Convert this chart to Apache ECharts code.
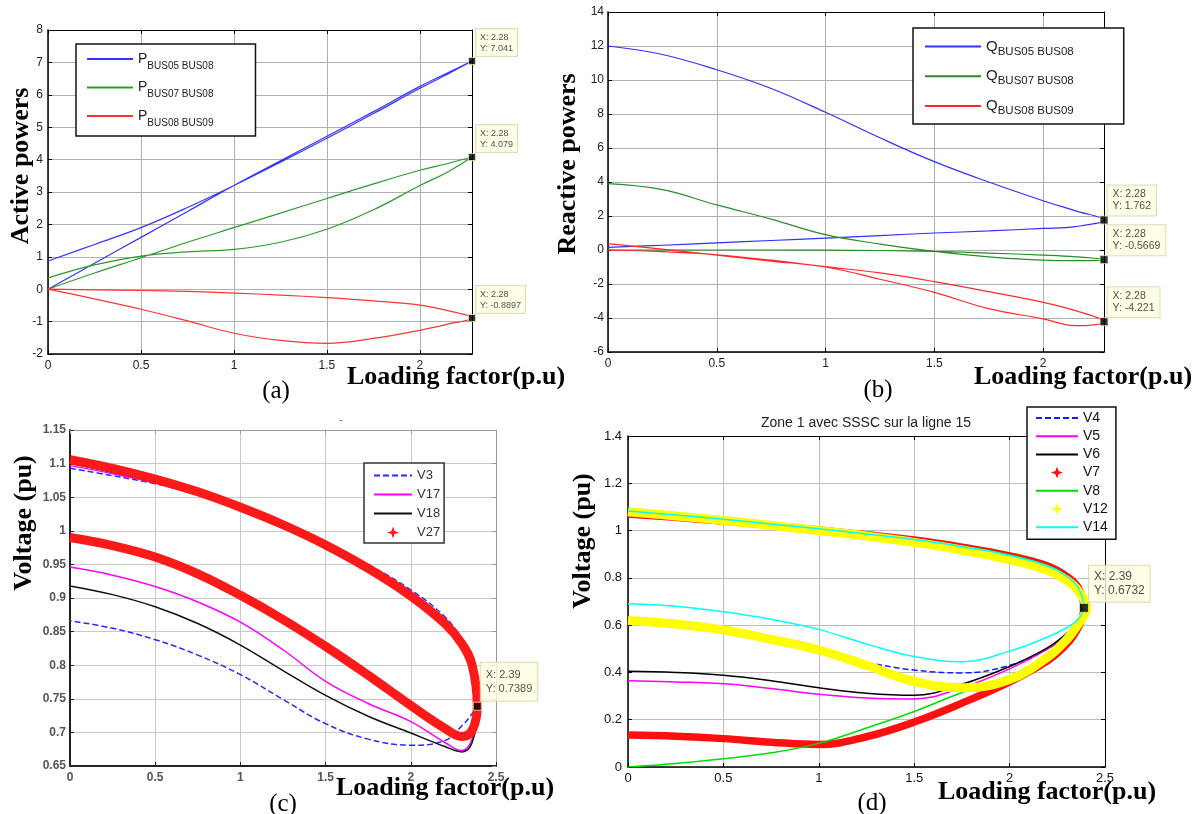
<!DOCTYPE html>
<html>
<head>
<meta charset="utf-8">
<script src="https://cdn.jsdelivr.net/npm/echarts@6/dist/echarts.min.js"></script>
<style>
  html, body { margin: 0; padding: 0; background: #fff; }
  #chart { width: 1203px; height: 814px; }
</style>
</head>
<body>
<div id="chart"></div>
<script>
// Loading factor samples used by the two power-flow panels and the two PV panels
const xsPower = [0, 0.25, 0.5, 0.75, 1, 1.25, 1.5, 1.75, 2, 2.15, 2.28];
const xsVolt = [0, 0.25, 0.5, 0.75, 1, 1.25, 1.5, 1.75, 2, 2.2, 2.3, 2.36];

// (a) active powers: two solution branches per line
const pBus0508A = [0.87, 1.38, 1.9, 2.52, 3.2, 3.92, 4.66, 5.42, 6.2, 6.64, 7.041];
const pBus0508B = [0, 0.8, 1.6, 2.4, 3.2, 3.96, 4.72, 5.48, 6.26, 6.68, 7.041];
const pBus0708A = [0.35, 0.75, 1.02, 1.15, 1.23, 1.45, 1.85, 2.45, 3.2, 3.62, 4.079];
const pBus0708B = [0, 0.5, 0.97, 1.45, 1.9, 2.35, 2.8, 3.25, 3.67, 3.88, 4.079];
const pBus0809A = [0, -0.02, -0.04, -0.07, -0.12, -0.18, -0.26, -0.36, -0.49, -0.66, -0.8897];
const pBus0809B = [0, -0.3, -0.62, -0.98, -1.36, -1.58, -1.67, -1.52, -1.27, -1.08, -0.8897];

// (b) reactive powers
const qBus0508A = [12, 11.5, 10.6, 9.5, 8.1, 6.6, 5.2, 4.0, 2.9, 2.3, 1.762];
const qBus0508B = [0.15, 0.28, 0.42, 0.56, 0.7, 0.85, 1.0, 1.12, 1.27, 1.38, 1.762];
const qBus0708A = [3.9, 3.55, 2.65, 1.82, 0.9, 0.35, -0.08, -0.4, -0.6, -0.63, -0.5669];
const qBus0708B = [0, 0, 0, 0, -0.01, -0.03, -0.08, -0.18, -0.3, -0.4, -0.5669];
const qBus0809A = [0.38, 0.05, -0.3, -0.65, -1.0, -1.72, -2.49, -3.45, -4.05, -4.45, -4.221];
const qBus0809B = [0, -0.1, -0.28, -0.6, -0.98, -1.35, -1.86, -2.45, -3.08, -3.57, -4.221];

// (c) PV curves: upper branch, nose point, lower branch
const v3Up = [1.093, 1.082, 1.07, 1.054, 1.034, 1.01, 0.982, 0.95, 0.912, 0.872, 0.837, 0.8];
const v3Nose = [2.405, 0.75];
const v3Lo = [0.866, 0.855, 0.838, 0.815, 0.786, 0.749, 0.713, 0.69, 0.681, 0.688, 0.71, 0.728];
const v17Up = [1.097, 1.085, 1.071, 1.053, 1.032, 1.007, 0.978, 0.944, 0.904, 0.862, 0.828, 0.792];
const v17Nose = [2.39, 0.735];
const v17Lo = [0.946, 0.934, 0.917, 0.894, 0.864, 0.823, 0.776, 0.743, 0.716, 0.685, 0.673, 0.69];
const v18Up = [1.1, 1.087, 1.072, 1.054, 1.033, 1.008, 0.979, 0.945, 0.905, 0.864, 0.83, 0.794];
const v18Nose = [2.39, 0.735];
const v18Lo = [0.918, 0.905, 0.887, 0.862, 0.83, 0.792, 0.755, 0.724, 0.699, 0.679, 0.671, 0.685];
const v27Up = [1.106, 1.093, 1.077, 1.058, 1.035, 1.009, 0.979, 0.944, 0.903, 0.862, 0.832, 0.8];
const v27Nose = [2.39, 0.7389];
const v27Lo = [0.99, 0.978, 0.961, 0.936, 0.904, 0.868, 0.828, 0.785, 0.74, 0.706, 0.694, 0.703];

// (d) PV curves, zone 1 with SSSC on line 15
const v4Up = [1.085, 1.068, 1.05, 1.03, 1.01, 0.988, 0.964, 0.934, 0.897, 0.852, 0.808, 0.76];
const v4Lo = [0.62, 0.6, 0.578, 0.54, 0.49, 0.443, 0.41, 0.398, 0.43, 0.5, 0.56, 0.61];
const v5Up = [1.086, 1.069, 1.051, 1.031, 1.011, 0.989, 0.965, 0.935, 0.898, 0.853, 0.809, 0.761];
const v5Lo = [0.365, 0.36, 0.352, 0.332, 0.308, 0.292, 0.288, 0.335, 0.415, 0.5, 0.56, 0.61];
const v6Up = [1.088, 1.071, 1.053, 1.033, 1.013, 0.991, 0.968, 0.938, 0.902, 0.857, 0.812, 0.763];
const v6Lo = [0.405, 0.4, 0.388, 0.365, 0.335, 0.312, 0.303, 0.35, 0.425, 0.505, 0.565, 0.615];
const v7Up = [1.07, 1.056, 1.04, 1.022, 1.002, 0.982, 0.96, 0.93, 0.893, 0.85, 0.806, 0.758];
const v7Lo = [0.135, 0.13, 0.12, 0.105, 0.095, 0.128, 0.19, 0.27, 0.36, 0.45, 0.52, 0.59];
const v8Up = [1.085, 1.068, 1.05, 1.03, 1.01, 0.988, 0.964, 0.934, 0.897, 0.852, 0.808, 0.76];
const v8Lo = [0, 0.015, 0.035, 0.06, 0.1, 0.165, 0.235, 0.315, 0.385, 0.475, 0.545, 0.6];
const v12Up = [1.08, 1.062, 1.043, 1.022, 1.0, 0.977, 0.95, 0.918, 0.877, 0.832, 0.79, 0.745];
const v12Lo = [0.62, 0.605, 0.58, 0.54, 0.495, 0.43, 0.362, 0.335, 0.37, 0.465, 0.54, 0.605];
const v14Up = [1.083, 1.066, 1.048, 1.028, 1.008, 0.986, 0.962, 0.932, 0.895, 0.85, 0.806, 0.758];
const v14Lo = [0.69, 0.68, 0.657, 0.625, 0.582, 0.52, 0.467, 0.445, 0.49, 0.55, 0.59, 0.625];
const noseD = [2.39, 0.6732];
const noseV12 = [2.405, 0.672];

// Data tips
const tipsA = [[2.28, 7.041], [2.28, 4.079], [2.28, -0.8897]];
const tipsB = [[2.28, 1.762], [2.28, -0.5669], [2.28, -4.221]];
const tipsC = [[2.39, 0.7389]];
const tipsD = [[2.39, 0.6732]];

// Axis tick settings
const ticksA = { xMin: 0, xMax: 2.28, xStep: 0.5, yMin: -2, yMax: 8, yStep: 1 };
const ticksB = { xMin: 0, xMax: 2.28, xStep: 0.5, yMin: -6, yMax: 14, yStep: 2 };
const ticksC = { xMin: 0, xMax: 2.5, xStep: 0.5, yMin: 0.65, yMax: 1.15, yStep: 0.05 };
const ticksD = { xMin: 0, xMax: 2.5, xStep: 0.5, yMin: 0, yMax: 1.4, yStep: 0.2 };

// ---- helpers ----
const pairs = (xs, ys) => ys.map((y, i) => [xs[i], y]);
const powerLoop = (a, b) => pairs(xsPower, a).concat(pairs(xsPower, b).reverse());
const pvLoop = (up, nose, lo) => pairs(xsVolt, up).concat([nose], pairs(xsVolt, lo).reverse());

const SANS = '"Liberation Sans", Arial, sans-serif';
const SERIF = '"Liberation Serif", "Times New Roman", serif';

function axes(g, t, s) {
  const line = (c, w) => ({ show: true, onZero: false, lineStyle: { color: c, width: w } });
  const tick = (c) => ({ show: true, inside: true, length: 4, lineStyle: { color: c, width: 1 } });
  const xs = [
    {
      type: 'value', gridIndex: g, position: 'bottom', min: t.xMin, max: t.xMax, interval: t.xStep,
      axisLine: line(s.axis, s.axisW), axisTick: tick(s.axis),
      axisLabel: { margin: s.xMargin, fontSize: s.font, color: s.label, fontFamily: SANS,
                   fontWeight: s.bold ? 'bold' : 'normal', showMaxLabel: s.showMax },
      splitLine: { show: true, lineStyle: { color: s.grid, width: 1 } }
    },
    {
      type: 'value', gridIndex: g, position: 'top', min: t.xMin, max: t.xMax, interval: t.xStep,
      axisLine: line(s.axis2, 1), axisTick: tick(s.axis2),
      axisLabel: { show: false }, splitLine: { show: false }
    }
  ];
  const ys = [
    {
      type: 'value', gridIndex: g, position: 'left', min: t.yMin, max: t.yMax, interval: t.yStep,
      axisLine: line(s.axis, s.axisW), axisTick: tick(s.axis),
      axisLabel: { margin: s.yMargin, fontSize: s.font, color: s.label, fontFamily: SANS,
                   fontWeight: s.bold ? 'bold' : 'normal' },
      splitLine: { show: true, lineStyle: { color: s.grid, width: 1 } }
    },
    {
      type: 'value', gridIndex: g, position: 'right', min: t.yMin, max: t.yMax, interval: t.yStep,
      axisLine: line(s.axis2, 1), axisTick: tick(s.axis2),
      axisLabel: { show: false }, splitLine: { show: false }
    }
  ];
  return { xs, ys };
}

function curve(name, data, g, color, width, dash) {
  return {
    type: 'line', name, data, xAxisIndex: g * 2, yAxisIndex: g * 2,
    symbol: 'none', smooth: 0.4, silent: true,
    lineStyle: { color, width, type: dash ? [6, 3] : 'solid' },
    itemStyle: { color }
  };
}

function tips(data, g, pos, font, lh, pad, size) {
  return {
    type: 'scatter', data, xAxisIndex: g * 2, yAxisIndex: g * 2, clip: false, z: 10, silent: true,
    symbol: 'rect', symbolSize: size,
    itemStyle: { color: '#000', borderColor: '#e6e6b8', borderWidth: 1 },
    label: {
      show: true, position: pos,
      formatter: p => 'X: ' + p.value[0] + '\nY: ' + p.value[1],
      fontFamily: SANS, fontSize: font, lineHeight: lh, color: '#222',
      backgroundColor: '#ffffe1', borderColor: '#d6d6b0', borderWidth: 1, padding: pad
    }
  };
}

// four-point star used as the legend glyph of the marker-only curves
const STAR = 'path://M5,0 L6.3,3.7 L10,5 L6.3,6.3 L5,10 L3.7,6.3 L0,5 L3.7,3.7 Z';
const starItem = name => ({ name, icon: STAR, itemStyle: { opacity: 1 } });

// ---- axes ----
const axA = axes(0, ticksA, { axis: '#000', axisW: 1.5, axis2: '#000', grid: '#b0b0b0', label: '#222',
  font: 12, xMargin: 6, yMargin: 5, showMax: false });
const axB = axes(1, ticksB, { axis: '#000', axisW: 1.5, axis2: '#000', grid: '#b0b0b0', label: '#222',
  font: 12, xMargin: 6, yMargin: 4, showMax: false });
const axC = axes(2, ticksC, { axis: '#222', axisW: 2, axis2: '#999', grid: '#c8c8c8', label: '#555',
  font: 12, xMargin: 6, yMargin: 4, bold: true, showMax: true });
const axD = axes(3, ticksD, { axis: '#000', axisW: 1.5, axis2: '#000', grid: '#bdbdbd', label: '#111',
  font: 13, xMargin: 5, yMargin: 6, showMax: true });

// ---- series ----
const series = [
  // (a)
  curve('P BUS05 BUS08', powerLoop(pBus0508A, pBus0508B), 0, '#3535ff', 1.2),
  curve('P BUS07 BUS08', powerLoop(pBus0708A, pBus0708B), 0, '#2e9a2e', 1.2),
  curve('P BUS08 BUS09', powerLoop(pBus0809A, pBus0809B), 0, '#ff3434', 1.2),
  tips(tipsA, 0, [8, -28], 9, 11, [3, 4, 2, 4], 7),
  // (b)
  curve('Q BUS05 BUS08', powerLoop(qBus0508A, qBus0508B), 1, '#3030ff', 1.2),
  curve('Q BUS07 BUS08', powerLoop(qBus0708A, qBus0708B), 1, '#2a8c2a', 1.2),
  curve('Q BUS08 BUS09', powerLoop(qBus0809A, qBus0809B), 1, '#ff2a2a', 1.2),
  tips(tipsB, 1, [8, -30], 10.5, 12, [3, 5, 3, 5], 8),
  // (c)
  curve('V3', pvLoop(v3Up, v3Nose, v3Lo), 2, '#2a2aff', 1.5, true),
  curve('V17', pvLoop(v17Up, v17Nose, v17Lo), 2, '#ff00ff', 1.5),
  curve('V18', pvLoop(v18Up, v18Nose, v18Lo), 2, '#111111', 1.5),
  curve('V27', pvLoop(v27Up, v27Nose, v27Lo), 2, '#ff1a1a', 9),
  tips(tipsC, 2, [8, -39], 11, 14, [5, 5, 5, 5], 8),
  // (d)
  curve('V4', pvLoop(v4Up, noseD, v4Lo), 3, '#1a1aff', 1.5, true),
  curve('V5', pvLoop(v5Up, noseD, v5Lo), 3, '#ff00ff', 1.5),
  curve('V6', pvLoop(v6Up, noseD, v6Lo), 3, '#000000', 1.5),
  curve('V7', pvLoop(v7Up, noseD, v7Lo), 3, '#ff1010', 7.5),
  curve('V8', pvLoop(v8Up, noseD, v8Lo), 3, '#00dd00', 1.5),
  curve('V12', pvLoop(v12Up, noseV12, v12Lo), 3, '#ffff00', 9),
  curve('V14', pvLoop(v14Up, noseD, v14Lo), 3, '#00ffff', 1.5),
  tips(tipsD, 3, [10, -37], 12, 14, [4, 5, 4, 5], 9)
];

// ---- legends ----
const subFormatter = name => '{m|' + name.charAt(0) + '}{s|' + name.slice(2) + '}';
const legendBase = {
  orient: 'vertical', selectedMode: false, backgroundColor: '#fff',
  borderColor: '#111', borderWidth: 1.5, borderRadius: 0,
  itemStyle: { opacity: 0 }
};
const legends = [
  Object.assign({}, legendBase, {
    left: 76, top: 44, padding: [3, 42, 8, 10], itemWidth: 46, itemHeight: 14, itemGap: 4.5,
    data: ['P BUS05 BUS08', 'P BUS07 BUS08', 'P BUS08 BUS09'],
    formatter: subFormatter,
    textStyle: { fontFamily: SANS, color: '#222', rich: {
      m: { fontFamily: SANS, fontSize: 14, lineHeight: 16, color: '#222' },
      s: { fontFamily: SANS, fontSize: 10, lineHeight: 12, color: '#222', padding: [14, 0, 0, 0] }
    } }
  }),
  Object.assign({}, legendBase, {
    left: 913, top: 28, padding: [7.5, 50, 7, 11], itemWidth: 56, itemHeight: 14, itemGap: 7.7,
    data: ['Q BUS05 BUS08', 'Q BUS07 BUS08', 'Q BUS08 BUS09'],
    formatter: subFormatter,
    textStyle: { fontFamily: SANS, color: '#222', rich: {
      m: { fontFamily: SANS, fontSize: 15, lineHeight: 18, color: '#222' },
      s: { fontFamily: SANS, fontSize: 11.5, lineHeight: 14, color: '#222', padding: [10, 0, 0, 0] }
    } }
  }),
  Object.assign({}, legendBase, {
    left: 364, top: 463, padding: [6, 4, 4, 9], itemWidth: 38, itemHeight: 12, itemGap: 6,
    borderColor: '#333',
    data: ['V3', 'V17', 'V18', starItem('V27')],
    textStyle: { fontFamily: SANS, fontSize: 13, color: '#333' }
  }),
  Object.assign({}, legendBase, {
    left: 1027, top: 407, padding: [4, 8, 5, 8], itemWidth: 42, itemHeight: 12, itemGap: 4.2,
    data: ['V4', 'V5', 'V6', starItem('V7'), 'V8', starItem('V12'), 'V14'],
    textStyle: { fontFamily: SANS, fontSize: 14, color: '#111' }
  })
];

// ---- free text: axis titles and panel tags ----
const titleFont = 'bold 26px ' + SERIF;
const tagFont = '25px ' + SERIF;
const text = (str, x, y, font, rot, color) => ({
  type: 'text', x, y, rotation: rot || 0, silent: true, z: 20,
  style: { text: str, font, fill: color || '#000', align: 'center', verticalAlign: 'middle' }
});
const graphic = [
  text('Active powers', 21, 166, titleFont, Math.PI / 2),
  text('Reactive powers', 568, 164, titleFont, Math.PI / 2),
  text('Voltage (pu)', 24, 523, titleFont, Math.PI / 2),
  text('Voltage (pu)', 583, 541, titleFont, Math.PI / 2),
  text('Loading factor(p.u)', 456, 377, titleFont),
  text('Loading factor(p.u)', 1083, 377, titleFont),
  text('Loading factor(p.u)', 445, 788, titleFont),
  text('Loading factor(p.u)', 1047, 792, titleFont),
  text('(a)', 276, 391, tagFont),
  text('(b)', 878, 390, tagFont),
  text('(c)', 283, 804, tagFont),
  text('(d)', 872, 803, tagFont),
  text('Zone 1 avec SSSC sur la ligne 15', 866, 423, '14px ' + SANS, 0, '#222'),
  text('-', 341, 420, '10px ' + SANS, 0, '#666')
];

const chart = echarts.init(document.getElementById('chart'), null, { renderer: 'canvas' });
chart.setOption({
  animation: false,
  backgroundColor: '#ffffff',
  grid: [
    { left: 48, top: 30, width: 424, height: 324 },
    { left: 608, top: 12, width: 496, height: 340 },
    { left: 70, top: 430, width: 426, height: 336 },
    { left: 628, top: 436, width: 477, height: 331 }
  ],
  xAxis: [].concat(axA.xs, axB.xs, axC.xs, axD.xs),
  yAxis: [].concat(axA.ys, axB.ys, axC.ys, axD.ys),
  legend: legends,
  series,
  graphic
});
</script>
</body>
</html>
